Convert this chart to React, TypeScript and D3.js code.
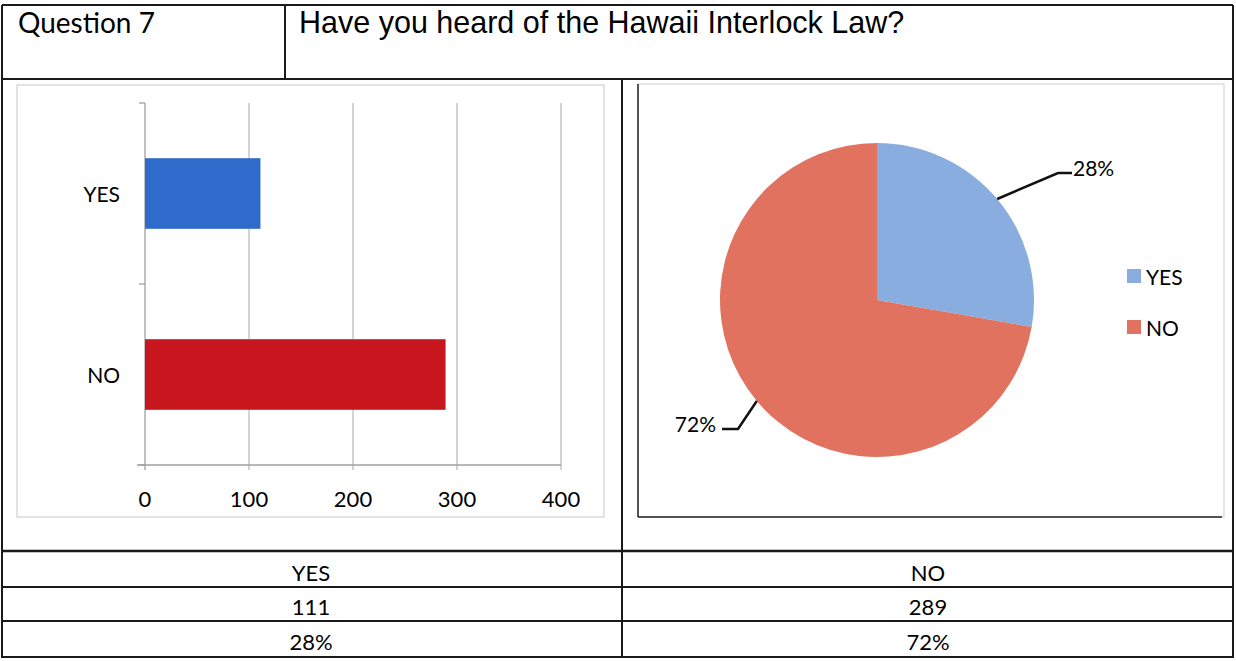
import React from "react";
import * as d3 from "d3";

const categories = ["YES", "NO"];
const counts = [111, 289];
const percentLabels = ["28%", "72%"];
const xTicks = [0, 100, 200, 300, 400];
const barColors = ["#2f6bca", "#c8161e"];
const pieColors = ["#8aaddf", "#e0725f"];
const title = "Have you heard of the Hawaii Interlock Law?";
const questionLabel = "Question 7";

const W = 1236;
const H = 661;
const CAL = "Lato, 'Open Sans', sans-serif";

export default function App() {
  // Bar chart scales
  const x = d3.scaleLinear().domain([0, 400]).range([145, 561]);
  const y = d3
    .scaleBand<string>()
    .domain(categories)
    .range([103, 465])
    .paddingInner(0.61)
    .paddingOuter(0.305);
  const step = y.step();

  // Pie
  const cx = 877;
  const cy = 300;
  const r = 157;
  const pie = d3.pie<number>().sort(null)(counts);
  const arc = d3.arc<d3.PieArcDatum<number>>().innerRadius(0).outerRadius(r);

  const pt = (a: number, rad: number) => [cx + rad * Math.sin(a), cy - rad * Math.cos(a)];
  const yesMid = (pie[0].startAngle + pie[0].endAngle) / 2;
  const noMid = (pie[1].startAngle + pie[1].endAngle) / 2;
  const yesEdge = pt(yesMid, r);
  const noEdge = pt(noMid, r);

  const rowLines = [551, 587, 621, 657];
  const tableCenters = [311, 928];

  return (
    <svg
      width={W}
      height={H}
      style={{ position: "absolute", left: 0, top: 0, background: "#fff" }}
    >
      <rect x={0} y={0} width={W} height={H} fill="#fff" />
      {/* outer table frame */}
      <g stroke="#1a1a1a" fill="none">
        <line x1={2} y1={5} x2={1233} y2={5} strokeWidth={2} />
        <line x1={2} y1={79} x2={1233} y2={79} strokeWidth={2} />
        <line x1={2} y1={5} x2={2} y2={658} strokeWidth={2} />
        <line x1={1233} y1={5} x2={1233} y2={658} strokeWidth={2} />
        <line x1={285} y1={5} x2={285} y2={79} strokeWidth={2} />
        <line x1={622} y1={79} x2={622} y2={658} strokeWidth={2} />
        {rowLines.map((ly, i) => (
          <line key={i} x1={2} y1={ly} x2={1233} y2={ly} strokeWidth={i === 0 ? 2.5 : 2} />
        ))}
      </g>
      <text x={18} y={33} fontFamily={CAL} fontSize={28} fill="#000">
        {questionLabel}
      </text>
      <text x={299} y={33} fontFamily="'Liberation Sans', Arial, sans-serif" fontSize={30.5} fill="#000">
        {title}
      </text>

      {/* Bar chart frame */}
      <rect x={17} y={85} width={587} height={432} fill="none" stroke="#c8c8c8" strokeWidth={1} />
      {/* gridlines */}
      {xTicks.slice(1).map((t) => (
        <line key={t} x1={x(t)} x2={x(t)} y1={103} y2={470} stroke="#b8b8b8" strokeWidth={1.2} />
      ))}
      {/* axes */}
      <line x1={x(0)} x2={x(0)} y1={103} y2={470} stroke="#a0a0a0" strokeWidth={1.3} />
      <line x1={137} x2={x(400)} y1={465} y2={465} stroke="#a0a0a0" strokeWidth={1.3} />
      {[0, 1, 2].map((i) => (
        <line key={i} x1={139} x2={x(0)} y1={103 + i * step} y2={103 + i * step} stroke="#a0a0a0" strokeWidth={1.3} />
      ))}
      {categories.map((c, i) => (
        <rect key={c} x={x(0)} y={y(c)!} width={x(counts[i]) - x(0)} height={y.bandwidth()} fill={barColors[i]} />
      ))}
      {categories.map((c) => (
        <text key={c} x={120} y={y(c)! + y.bandwidth() / 2} textAnchor="end" dominantBaseline="central" fontFamily={CAL} fontSize={21} fill="#000">
          {c}
        </text>
      ))}
      {xTicks.map((t) => (
        <text key={t} x={x(t)} y={498} textAnchor="middle" dominantBaseline="central" fontFamily={CAL} fontSize={22} fill="#000">
          {t}
        </text>
      ))}

      {/* Pie chart frame */}
      <rect x={638} y={84} width={586} height={433} fill="none" stroke="#cfcfcf" strokeWidth={1} />
      <line x1={638} x2={1222} y1={517} y2={517} stroke="#222" strokeWidth={1.5} />
      <line x1={638} x2={638} y1={84} y2={517} stroke="#222" strokeWidth={1.5} />
      <g transform={`translate(${cx},${cy})`}>
        {pie.map((p, i) => (
          <path key={i} d={arc(p)!} fill={pieColors[i]} />
        ))}
      </g>
      {/* leader lines */}
      <polyline
        points={`${yesEdge[0]},${yesEdge[1]} 1058,173 1072,173`}
        fill="none"
        stroke="#111"
        strokeWidth={2.5}
      />
      <text x={1073} y={167} dominantBaseline="central" fontFamily={CAL} fontSize={21} fill="#000">
        {percentLabels[0]}
      </text>
      <polyline
        points={`${noEdge[0]},${noEdge[1]} 738,429 722,429`}
        fill="none"
        stroke="#111"
        strokeWidth={2.5}
      />
      <text x={716} y={423} textAnchor="end" dominantBaseline="central" fontFamily={CAL} fontSize={21} fill="#000">
        {percentLabels[1]}
      </text>
      {/* legend */}
      {categories.map((c, i) => (
        <g key={c} transform={`translate(1127, ${276 + i * 51})`}>
          <rect x={0} y={-7} width={14} height={14} fill={pieColors[i]} />
          <text x={19} y={0} dominantBaseline="central" fontFamily={CAL} fontSize={21} fill="#000">
            {c}
          </text>
        </g>
      ))}

      {/* table values */}
      {categories.map((c, i) => (
        <g key={c}>
          <text x={tableCenters[i]} y={572} textAnchor="middle" dominantBaseline="central" fontFamily={CAL} fontSize={22} fill="#000">
            {c}
          </text>
          <text x={tableCenters[i]} y={606} textAnchor="middle" dominantBaseline="central" fontFamily={CAL} fontSize={22} fill="#000">
            {counts[i]}
          </text>
          <text x={tableCenters[i]} y={641} textAnchor="middle" dominantBaseline="central" fontFamily={CAL} fontSize={22} fill="#000">
            {percentLabels[i]}
          </text>
        </g>
      ))}
    </svg>
  );
}
